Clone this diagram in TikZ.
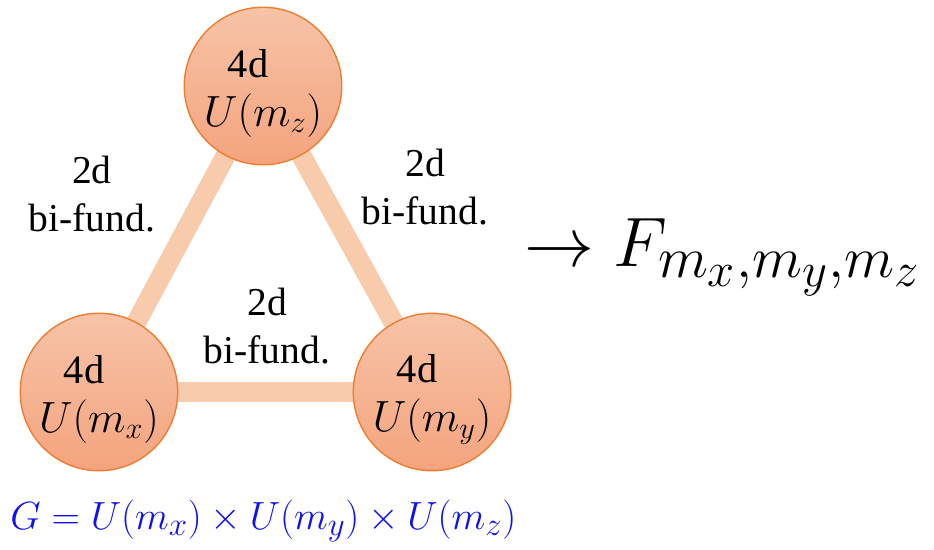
\documentclass[tikz,border=0pt]{standalone}
\usepackage{graphicx}
\usepackage{fontspec}
\setmainfont{Liberation Serif}
\usetikzlibrary{backgrounds}
\definecolor{balltop}{HTML}{F7C3A7}
\definecolor{ballbottom}{HTML}{F4A47E}
\definecolor{ringline}{HTML}{ED7D31}
\definecolor{linkfill}{HTML}{F8CBAD}
\definecolor{gblue}{HTML}{1010F0}

\begin{document}
\begin{tikzpicture}[x=0.02cm, y=-0.02cm,
    gauge/.style={circle, draw=ringline, thick, top color=balltop, bottom color=ballbottom,
      minimum size=3.15cm, inner sep=0pt, align=center, font=\fontsize{23}{28}\selectfont},
    link/.style={line width=0.4cm, draw=linkfill},
    lbl/.style={align=center, font=\fontsize{22.5}{27}\selectfont}]
    \useasboundingbox (0,0) rectangle (934,550);
    % 4d gauge nodes
    \node[gauge] (gz) at (263,86) {\rule{0pt}{24pt}4d\hspace*{0.6cm}\\$U(m_z)$};
    \node[gauge] (gx) at (99,392) {\rule{0pt}{24pt}4d\hspace*{0.6cm}\\$U(m_x)$};
    \node[gauge] (gy) at (432,392) {\rule{0pt}{24pt}4d\hspace*{0.6cm}\\$U(m_y)$};

    % 2d bi-fundamental links
    \begin{scope}[on background layer]
      \draw[link] (gz.center) -- (gx.center);
      \draw[link] (gz.center) -- (gy.center);
      \draw[link] (gx.center) -- (gy.center);
    \end{scope}

    % Link labels
    \node[lbl] (lzx) at (92,194) {2d\\bi-fund.};
    \node[lbl] (lzy) at (425,187) {2d\\bi-fund.};
    \node[lbl] (lxy) at (267,326) {2d\\bi-fund.};

    % Result and gauge group
    \node[anchor=base west, inner sep=0pt, font=\fontsize{24.88}{30}\selectfont] (res) at (524,267) {\scalebox{1.6}{$\rightarrow F_{m_x,m_y,m_z}$}};
    \node[anchor=base west, inner sep=0pt, text=gblue, font=\fontsize{24.88}{30}\selectfont] (grp) at (10,530) {\scalebox{0.9}{$G=U(m_x)\times U\bigl(m_y\bigr)\times U(m_z)$}};
\end{tikzpicture}
\end{document}
